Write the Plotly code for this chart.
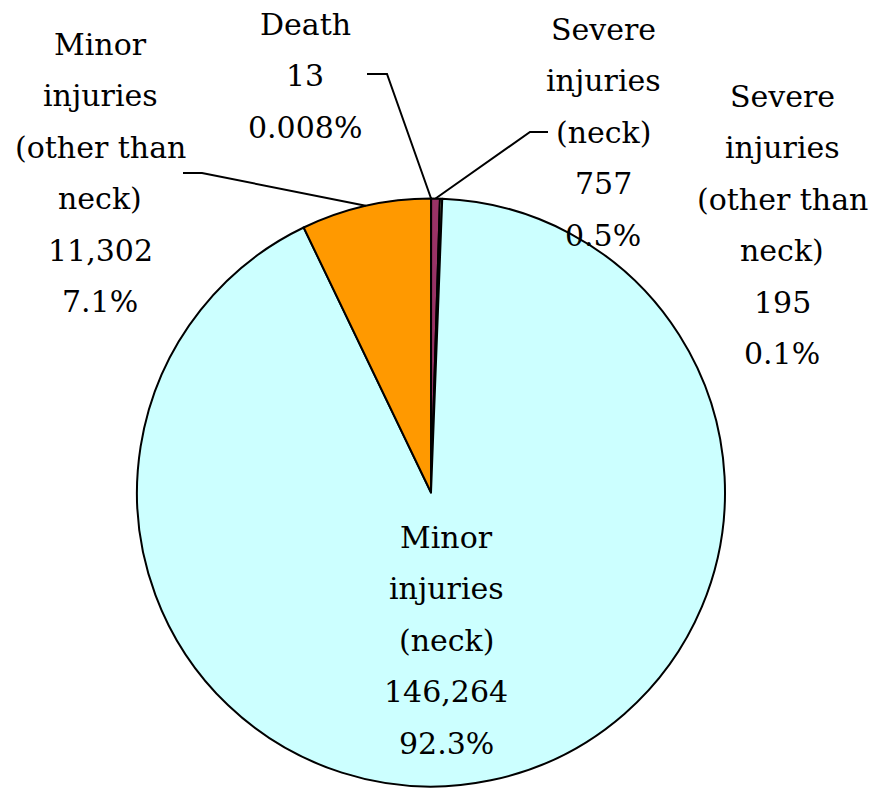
import math
import plotly.graph_objects as go

# ---- data ----
categories = ["Death", "Severe injuries (neck)", "Severe injuries (other than neck)",
              "Minor injuries (neck)", "Minor injuries (other than neck)"]
label_lines = [["Death"],
               ["Severe", "injuries", "(neck)"],
               ["Severe", "injuries", "(other than", "neck)"],
               ["Minor", "injuries", "(neck)"],
               ["Minor", "injuries", "(other than", "neck)"]]
values = [13, 757, 195, 146264, 11302]
percent_labels = ["0.008%", "0.5%", "0.1%", "92.3%", "7.1%"]
colors = ["#9999FF", "#993366", "#FFFFCC", "#CCFFFF", "#FF9900"]

# ---- layout constants (page pixels) ----
W, H = 869, 788
CX, CY, R = 431, 492.5, 294
FS = 30
LS = 51.5
FONT = "DejaVu Serif"
# label anchor: center x, first baseline y
label_pos = [(305, 35), (603, 40), (782, 107), (446, 548), (100, 55)]
# leader: (text-side outer x, elbow x, y) or None
leaders = [(367, 387, 74), (548, 530, 132), None, None, (183, 202, 173)]


def px(x):
    return x / W


def py(y):
    return 1 - y / H


fig = go.Figure(go.Pie(
    labels=categories, values=values, sort=False, direction="clockwise", rotation=0,
    marker=dict(colors=colors, line=dict(color="black", width=2)),
    textinfo="none", hoverinfo="label+value+percent", showlegend=False,
    domain=dict(x=[px(CX - R), px(CX + R)], y=[max(0, py(CY + R)), py(CY - R)]),
))

total = sum(values)
annotations = []
shapes = []
cum = 0
for i, v in enumerate(values):
    mid = (cum + v / 2) / total * 2 * math.pi
    cum += v
    lines = label_lines[i] + [f"{v:,}", percent_labels[i]]
    x0, y0 = label_pos[i]
    for k, t in enumerate(lines):
        base = y0 + k * LS
        annotations.append(dict(
            x=px(x0), y=py(base - 0.36 * FS), xref="paper", yref="paper",
            text=t, showarrow=False, xanchor="center", yanchor="middle", borderpad=0,
            font=dict(family=FONT, size=FS, color="black")))
    if leaders[i] is not None:
        ox, ex, ly = leaders[i]
        tx = CX + R * math.sin(mid)
        ty = CY - R * math.cos(mid)
        shapes.append(dict(
            type="path", xref="paper", yref="paper",
            path=f"M {px(ox)} {py(ly)} L {px(ex)} {py(ly)} L {px(tx)} {py(ty)}",
            line=dict(color="black", width=2)))

fig.update_layout(
    width=W, height=H, margin=dict(l=0, r=0, t=0, b=0),
    paper_bgcolor="white", plot_bgcolor="white",
    font=dict(family=FONT),
    annotations=annotations, shapes=shapes,
)
fig.write_html("out.html", config={"displayModeBar": False},
               post_script="document.body.style.margin='0';document.body.style.overflow='hidden';")
